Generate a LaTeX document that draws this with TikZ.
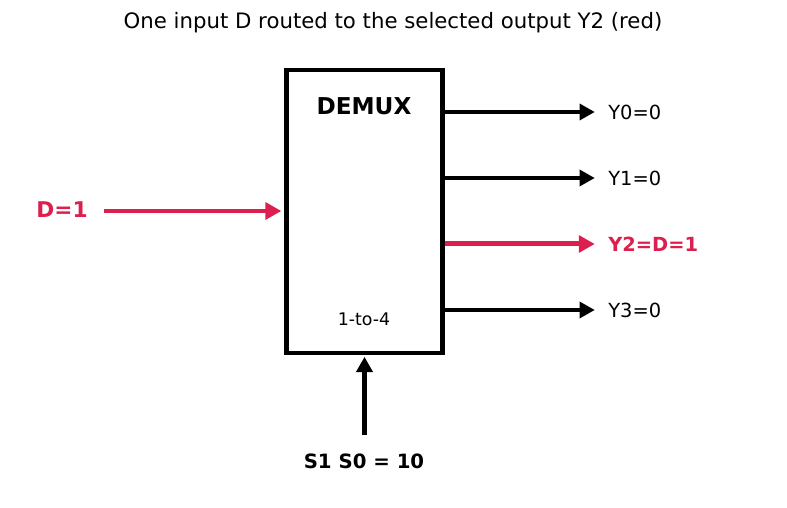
\documentclass[tikz,border=0pt]{standalone}
\usepackage{fontspec}
\setmainfont{DejaVu Sans}
\usetikzlibrary{arrows.meta}
\definecolor{hot}{HTML}{DC1F4E}
\tikzset{
  blk/.style={draw=black, line width=3.4pt, fill=white, minimum width=112.3pt, minimum height=203.8pt, inner sep=0pt},
  ttl/.style={font=\fontsize{15.3}{17}\selectfont},
  bigname/.style={font=\bfseries\fontsize{16.7}{19}\selectfont},
  tag/.style={font=\fontsize{12.5}{14}\selectfont},
  outlbl/.style={font=\fontsize{14}{16}\selectfont, anchor=west, inner sep=0pt},
  sellbl/.style={font=\bfseries\fontsize{14.2}{16}\selectfont},
  arr/.style={-{Triangle[length=11pt, width=11.5pt]}, line width=2.6pt},
  hotarr/.style={-{Triangle[length=11.5pt, width=12pt]}, line width=3.6pt, hot},
}

\begin{document}
\begin{tikzpicture}[x=0.72pt, y=-0.72pt]
\useasboundingbox (0,0) rectangle (787,508);

\node[ttl] (title) at (393,23) {One input D routed to the selected output Y2 (red)};

% the demultiplexer
\node[blk] (box) at (364.5,211.5) {};
\node[bigname] (demux) at (364,106) {DEMUX};
\node[tag] (kind) at (364,319) {1-to-4};

% input
\node[text=hot, font=\bfseries\fontsize{15.6}{17}\selectfont] (din) at (62,210) {D=1};
\coordinate (dsrc) at (104,211);
\draw[hotarr, line width=3.2pt] (dsrc) -- ([xshift=-2pt]box.west |- dsrc);

% outputs
\node[outlbl] (y0) at (608,112) {Y0=0};
\node[outlbl] (y1) at (608,178) {Y1=0};
\node[outlbl, text=hot, font=\bfseries\fontsize{14}{16}\selectfont] (y2) at (608,244) {Y2=D=1};
\node[outlbl] (y3) at (608,310) {Y3=0};
\foreach \k in {0,1,3} {
  \draw[arr] (box.east |- y\k.west) -- ([xshift=-9.5pt]y\k.west);
}
\draw[hotarr] (box.east |- y2.west) -- ([xshift=-9.5pt]y2.west);

% select lines
\node[sellbl] (s) at (364,461) {S1 S0 = 10};
\coordinate (ssrc) at (364.5,435);
\draw[arr, line width=3pt] (ssrc) -- ([yshift=-1pt]ssrc |- box.south);
\end{tikzpicture}
\end{document}
